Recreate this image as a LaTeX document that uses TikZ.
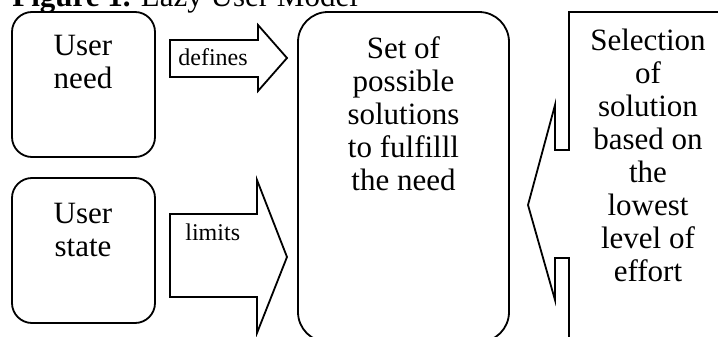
\documentclass[tikz,border=0pt]{standalone}
\usepackage{fontspec}
\setmainfont{Liberation Serif}
\usetikzlibrary{positioning}
\begin{document}
\begin{tikzpicture}[x=0.5pt,y=-0.5pt]
		\tikzstyle{Box}		= [draw, line width=0.9pt, rounded corners=10pt, inner sep=0pt]
		\tikzstyle{Big}		= [font=\fontsize{15.5}{16.5}\selectfont, align=center, inner sep=0pt, anchor=north]
		\tikzstyle{Small}	= [font=\fontsize{12}{14}\selectfont, inner sep=0pt, anchor=base west]
		\tikzstyle{Block}	= [draw, line width=0.9pt, line join=miter]

		\useasboundingbox (0,0) rectangle (718,337);
		\clip (0,0) rectangle (718,337);

		\node (title) at (12,6) [anchor=base west, inner sep=0pt, font=\fontsize{15.5}{16.5}\selectfont] {\textbf{Figure 1.} Lazy User Model};

		\node (need)   at (83.5,84.5)  [Box, minimum width=71.5pt, minimum height=72.5pt] {};
		\node (state)  at (83.5,250.5) [Box, minimum width=71.5pt, minimum height=72.5pt] {};
		\node (solset) at (403.5,177)  [Box, rounded corners=15pt, minimum width=105.5pt, minimum height=165pt] {};

		\node (needtxt)   at (83,34.5)   [Big] {User\\need};
		\node (statetxt)  at (83,202.5)  [Big] {User\\state};
		\node (solsettxt) at (403.5,36)  [Big] {Set of\\possible\\solutions\\to fulfilll\\the need};
		\node (selecttxt) at (648,29)    [Big] {Selection\\of\\solution\\based on\\the\\lowest\\level of\\effort};

		% block arrows
		\draw [Block] (170,40) -- (258,40) -- (258,25) -- (287,58) -- (258,91) -- (258,77) -- (170,77) -- cycle;
		\draw [Block] (170,214) -- (257,214) -- (257,180) -- (287,257) -- (257,333) -- (257,297) -- (170,297) -- cycle;
		\node (defines) at (178,65)  [Small] {defines};
		\node (limits)  at (185,240) [Small] {limits};

		% callout on the right
		\draw [Block] (730,12) -- (569,12) -- (569,150) -- (555,150) -- (555,105) -- (528,205)
			-- (555,300) -- (555,258) -- (569,258) -- (569,345);
	\end{tikzpicture}
\end{document}
